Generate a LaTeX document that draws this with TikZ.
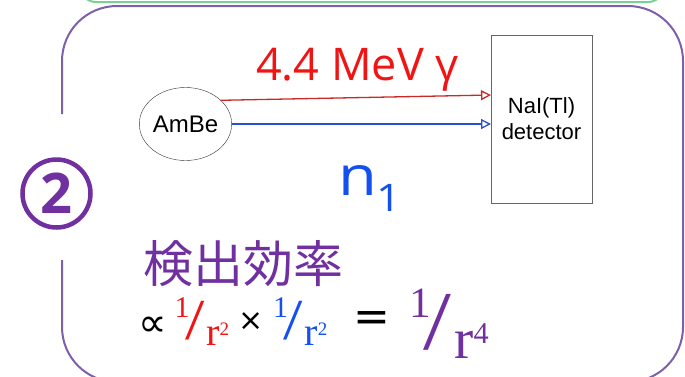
\documentclass[tikz,border=0pt]{standalone}
\usepackage{fontspec}
\usepackage{graphicx}
\usetikzlibrary{positioning,arrows.meta,shapes.geometric}
\newfontfamily\helvfont{Liberation Sans}
\newfontfamily\gammafont{Open Sans}
\newfontfamily\nfont[FakeStretch=1.15]{Open Sans}
\newfontfamily\badgefont{Open Sans}
\newfontfamily\symfont{DejaVu Sans}
\newfontfamily\fracfont{Liberation Serif}
\newfontfamily\jpfont{Noto Sans CJK JP}
\definecolor{effPurple}{RGB}{112,48,160}
\definecolor{framePurple}{RGB}{125,95,170}
\definecolor{boxGreen}{RGB}{120,210,150}
\definecolor{textRed}{RGB}{240,20,20}
\definecolor{arrowRed}{RGB}{205,40,40}
\definecolor{textBlue}{RGB}{20,80,240}
\definecolor{arrowBlue}{RGB}{40,80,210}

\newcommand{\fsz}[1]{\fontsize{#1}{#1}\selectfont}
% slashed fraction 1/r^n, #1 = exponent, #2 = scale, #3 = exponent size
\newcommand{\slfrac}[3]{\scalebox{#2}{\fracfont
  \raisebox{28pt}{\fsz{30}1}\kern-4.7pt
  \raisebox{6pt}{\scalebox{1.2}[1]{\fsz{58}/}}\kern2pt
  {\fsz{40}r}\raisebox{10pt}{\fsz{#3}#1}}}

\begin{document}
\begin{tikzpicture}[x=1pt,y=-1pt,
    frame/.style={draw=framePurple, line width=2pt, rounded corners=55pt},
    topbox/.style={draw=boxGreen, line width=2pt, rounded corners=16pt},
    source/.style={draw=black!80, ellipse, minimum width=76pt, minimum height=73pt,
      inner sep=0pt, outer sep=0pt, font=\helvfont\fsz{24}},
    detbox/.style={draw=black!60, minimum width=101pt, minimum height=168pt,
      align=center, inner sep=0pt, outer sep=0pt,
      font=\helvfont\fontsize{22}{26}\selectfont},
    ray/.style={-{Triangle[open,length=10pt,width=10pt]}, line width=1.3pt},
    badge/.style={circle, draw=effPurple, line width=4.5pt, minimum size=68pt,
      inner sep=0pt, text=effPurple, font=\badgefont\bfseries\fsz{56}},
    piece/.style={inner sep=0pt, outer sep=0pt}
  ]
    \clip (0,0) rectangle (685,376);

    % frames
    \draw[topbox] (80,-40) rectangle (664,2);
    \draw[frame] (62,114) -- (62,6) -- (683,6) -- (683,382) -- (62,382) -- (62,260);
    \node[badge] (two) at (56.5,193.5) {2};

    % source and detector
    \node[source] (ambe) at (185.5,124) {AmBe};
    \node[detbox] (det) at (541.5,119) {NaI(Tl)\\detector};

    \draw[ray, draw=arrowRed] (ambe.34) -- ([yshift=24pt]det.west);
    \draw[ray, draw=arrowBlue] (ambe.east) -- ([yshift=-5pt]det.west);

    \node[piece, anchor=base, text=textRed, font=\gammafont\fsz{45}] (gamma)
      at (357.5,80) {4.4 MeV γ};
    \node[piece, anchor=base west, text=textBlue, font=\nfont\fsz{55}] (nlab)
      at (338,195) {n\raisebox{-16pt}{\fsz{38}1}};

    % efficiency
    \node[piece, text=effPurple, font=\jpfont\fsz{50}] (eff) at (243,264) {検出効率};
    \node[piece, font=\symfont\fsz{40}] (prop) at (153,327) {∝};
    \node[piece, anchor=base west, text=textRed] (fracR) at (174.7,345) {\slfrac{2}{1}{19}};
    \node[piece, font=\symfont\fsz{30}] (times) at (251.5,322) {×};
    \node[piece, anchor=base west, text=textBlue] (fracB) at (273,345) {\slfrac{2}{1}{19}};
    \node[piece, font=\symfont\fsz{44}] (equals) at (372,322) {=};
    \node[piece, anchor=base west, text=effPurple] (fracP) at (409,358) {\slfrac{4}{1.44}{21}};
\end{tikzpicture}
\end{document}
